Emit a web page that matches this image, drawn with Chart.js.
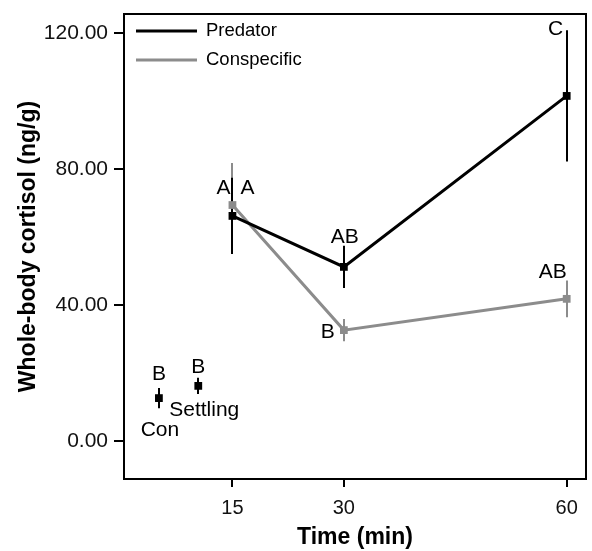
<!DOCTYPE html>
<html>
<head>
<meta charset="utf-8">
<script src="https://cdn.jsdelivr.net/npm/chart.js@4"></script>
<style>
  html, body { margin: 0; padding: 0; background: #fff; }
  #wrap { width: 592px; height: 551px; }
</style>
</head>
<body>
<div id="wrap"><canvas id="cortisol-chart" width="592" height="551"></canvas></div>
<script>
// values
const timePoints = [15, 30, 60];
const predatorMeans = [66.2, 51.2, 101.5];
const predatorSE = [11.2, 6.2, 19.3];
const conspecificMeans = [69.4, 32.6, 41.8];
const conspecificSE = [12.4, 3.3, 5.4];
const predatorLetters = ['A', 'AB', 'C'];
const conspecificLetters = ['A', 'B', 'AB'];

const baselineNames = ['Con', 'Settling'];
const baselineTimes = [5.1, 10.4];
const baselineMeans = [12.6, 16.2];
const baselineSE = [3.0, 2.4];
const baselineLetters = ['B', 'B'];

const xTicks = [15, 30, 60];
const yTicks = [0, 40, 80, 120];

const BLACK = '#000000';
const GREY = '#8c8c8c';
const FONT = '"Liberation Sans", Arial, Helvetica, sans-serif';

function toPoints(xs, ys) {
    return xs.map(function(x, i) { return { x: x, y: ys[i] }; });
}

// pixel offsets of the letter labels from their point
const letterOffsets = {
    predator: [[15, -28], [1, -30], [-11, -67]],
    conspecific: [[-9, -17], [-16, 2], [-14, -27]],
    baseline: [[0, -24], [0, -19]],
    baselineName: [[1, 32], [6, 24]]
};

const errorBars = {
    id: 'errorBars',
    beforeDatasetsDraw(chart) {
        const ctx = chart.ctx;
        const xs = chart.scales.x, ys = chart.scales.y;
        const groups = [
            { t: timePoints, m: conspecificMeans, se: conspecificSE, color: GREY },
            { t: timePoints, m: predatorMeans, se: predatorSE, color: BLACK },
            { t: baselineTimes, m: baselineMeans, se: baselineSE, color: BLACK }
        ];
        ctx.save();
        ctx.lineWidth = 2;
        groups.forEach(function(g) {
            ctx.strokeStyle = g.color;
            g.t.forEach(function(t, i) {
                const px = Math.round(xs.getPixelForValue(t));
                ctx.beginPath();
                ctx.moveTo(px, ys.getPixelForValue(g.m[i] + g.se[i]));
                ctx.lineTo(px, ys.getPixelForValue(g.m[i] - g.se[i]));
                ctx.stroke();
            });
        });
        ctx.restore();
    }
};

const annotations = {
    id: 'annotations',
    afterDraw(chart) {
        const ctx = chart.ctx;
        const xs = chart.scales.x, ys = chart.scales.y;
        const area = chart.chartArea;
        ctx.save();

        // frame
        ctx.strokeStyle = BLACK;
        ctx.lineWidth = 2;
        ctx.strokeRect(area.left, area.top, area.right - area.left, area.bottom - area.top);

        ctx.fillStyle = BLACK;
        ctx.font = '21px ' + FONT;
        ctx.textAlign = 'center';
        ctx.textBaseline = 'middle';

        function put(text, t, v, off) {
            ctx.fillText(text, xs.getPixelForValue(t) + off[0], ys.getPixelForValue(v) + off[1]);
        }
        timePoints.forEach(function(t, i) {
            put(predatorLetters[i], t, predatorMeans[i], letterOffsets.predator[i]);
            put(conspecificLetters[i], t, conspecificMeans[i], letterOffsets.conspecific[i]);
        });
        baselineTimes.forEach(function(t, i) {
            put(baselineLetters[i], t, baselineMeans[i], letterOffsets.baseline[i]);
            put(baselineNames[i], t, baselineMeans[i], letterOffsets.baselineName[i]);
        });

        // legend
        const legendItems = [['Predator', BLACK, 31], ['Conspecific', GREY, 60]];
        ctx.font = '18.5px ' + FONT;
        ctx.textAlign = 'left';
        legendItems.forEach(function(item) {
            ctx.strokeStyle = item[1];
            ctx.lineWidth = 3;
            ctx.beginPath();
            ctx.moveTo(136, item[2]);
            ctx.lineTo(197, item[2]);
            ctx.stroke();
            ctx.fillStyle = BLACK;
            ctx.fillText(item[0], 206, item[2]);
        });
        ctx.restore();
    }
};

const ctx = document.getElementById('cortisol-chart').getContext('2d');
new Chart(ctx, {
    type: 'line',
    data: {
        datasets: [
            {
                label: 'Predator',
                data: toPoints(timePoints, predatorMeans),
                borderColor: BLACK,
                backgroundColor: BLACK,
                borderWidth: 3,
                pointStyle: 'rect',
                pointRadius: 5.5,
                pointHoverRadius: 5.5,
                pointBorderWidth: 0,
                tension: 0
            },
            {
                label: 'Conspecific',
                data: toPoints(timePoints, conspecificMeans),
                borderColor: GREY,
                backgroundColor: GREY,
                borderWidth: 3,
                pointStyle: 'rect',
                pointRadius: 5.5,
                pointHoverRadius: 5.5,
                pointBorderWidth: 0,
                tension: 0
            },
            {
                label: 'Baseline',
                data: toPoints(baselineTimes, baselineMeans),
                showLine: false,
                borderColor: BLACK,
                backgroundColor: BLACK,
                pointStyle: 'rect',
                pointRadius: 5.5,
                pointHoverRadius: 5.5,
                pointBorderWidth: 0
            }
        ]
    },
    options: {
        responsive: false,
        animation: false,
        layout: { padding: { top: 14, right: 6, left: 0, bottom: 0 } },
        plugins: {
            legend: { display: false },
            tooltip: { enabled: false }
        },
        scales: {
            x: {
                type: 'linear',
                min: 0.4,
                max: 62.6,
                afterBuildTicks: function(scale) {
                    scale.ticks = xTicks.map(function(v) { return { value: v }; });
                },
                afterFit: function(scale) {
                    scale.height = 72;
                    scale.paddingLeft = 0;
                    scale.paddingRight = 0;
                },
                grid: { drawOnChartArea: false, drawTicks: true, tickLength: 8, color: BLACK, lineWidth: 2 },
                border: { display: false },
                ticks: { color: '#111', font: { family: FONT, size: 20 }, padding: 9, maxRotation: 0 },
                title: {
                    display: true,
                    text: 'Time (min)',
                    color: BLACK,
                    font: { family: FONT, size: 23, weight: 'bold' },
                    padding: { top: 4, bottom: 0 }
                }
            },
            y: {
                type: 'linear',
                min: -11.2,
                max: 125.6,
                afterBuildTicks: function(scale) {
                    scale.ticks = yTicks.map(function(v) { return { value: v }; });
                },
                afterFit: function(scale) {
                    scale.width = 124;
                    scale.paddingTop = 0;
                    scale.paddingBottom = 0;
                },
                grid: { drawOnChartArea: false, drawTicks: true, tickLength: 10, color: BLACK, lineWidth: 2 },
                border: { display: false },
                ticks: {
                    color: '#111',
                    font: { family: FONT, size: 21 },
                    padding: 6,
                    callback: function(v) { return Number(v).toFixed(2); }
                },
                title: {
                    display: true,
                    text: 'Whole-body cortisol (ng/g)',
                    color: BLACK,
                    font: { family: FONT, size: 23, weight: 'bold' },
                    padding: { top: 15, bottom: 0 }
                }
            }
        }
    },
    plugins: [errorBars, annotations]
});
</script>
</body>
</html>
